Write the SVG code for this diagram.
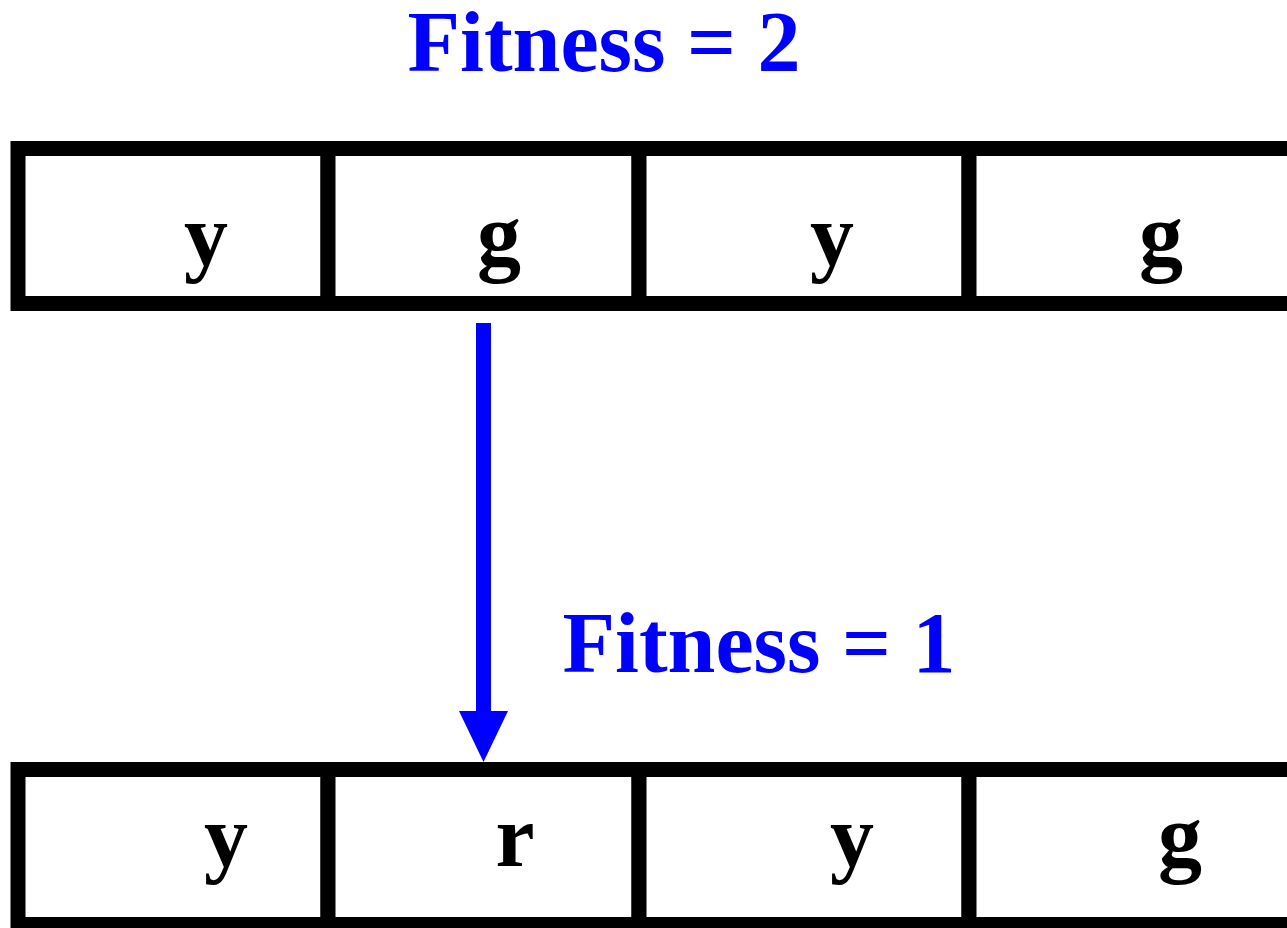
<svg xmlns="http://www.w3.org/2000/svg" width="1287" height="928" viewBox="0 0 1287 928">
  <style>
    .cell { fill: #ffffff; stroke: #000000; stroke-width: 15; }
    .gene { font-family: "Liberation Serif", "Times New Roman", serif; font-weight: bold; font-size: 88px; fill: #000000; text-anchor: middle; }
    .fit { font-family: "Liberation Serif", "Times New Roman", serif; font-weight: bold; font-size: 86px; fill: #0000ff; text-anchor: middle; }
    .link { stroke: #0000ff; stroke-width: 15; fill: none; }
  </style>
  <defs>
    <marker id="head" markerUnits="userSpaceOnUse" markerWidth="51" markerHeight="49" refX="0" refY="24.5" orient="auto" overflow="visible">
      <path d="M0,0 L51,24.5 L0,49 Z" fill="#0000ff"/>
    </marker>
  </defs>
  <rect width="1287" height="928" fill="#ffffff"/>

  <!-- parent chromosome -->
  <g id="parent">
    <g id="p1"><rect class="cell" x="18" y="148.5" width="310" height="155"/><text class="gene" x="206" y="265">y</text></g>
    <g id="p2"><rect class="cell" x="328" y="148.5" width="311" height="155"/><text class="gene" x="499" y="265">g</text></g>
    <g id="p3"><rect class="cell" x="639" y="148.5" width="330" height="155"/><text class="gene" x="832" y="265">y</text></g>
    <g id="p4"><rect class="cell" x="969" y="148.5" width="340" height="155"/><text class="gene" x="1161" y="265">g</text></g>
  </g>

  <!-- mutated child chromosome -->
  <g id="child">
    <g id="c1"><rect class="cell" x="18" y="769.5" width="310" height="155"/><text class="gene" x="226" y="866">y</text></g>
    <g id="c2"><rect class="cell" x="328" y="769.5" width="311" height="155"/><text class="gene" x="515" y="866">r</text></g>
    <g id="c3"><rect class="cell" x="639" y="769.5" width="330" height="155"/><text class="gene" x="852" y="866">y</text></g>
    <g id="c4"><rect class="cell" x="969" y="769.5" width="340" height="155"/><text class="gene" x="1180" y="866">g</text></g>
  </g>

  <g id="fitness-parent"><text class="fit" x="604" y="71">Fitness = 2</text></g>
  <g id="fitness-child"><text class="fit" x="759" y="672">Fitness = 1</text></g>

  <!-- mutation arrow -->
  <g id="connectors">
    <path class="link" d="M483.5,323 L483.5,711" marker-end="url(#head)"/>
  </g>
</svg>
